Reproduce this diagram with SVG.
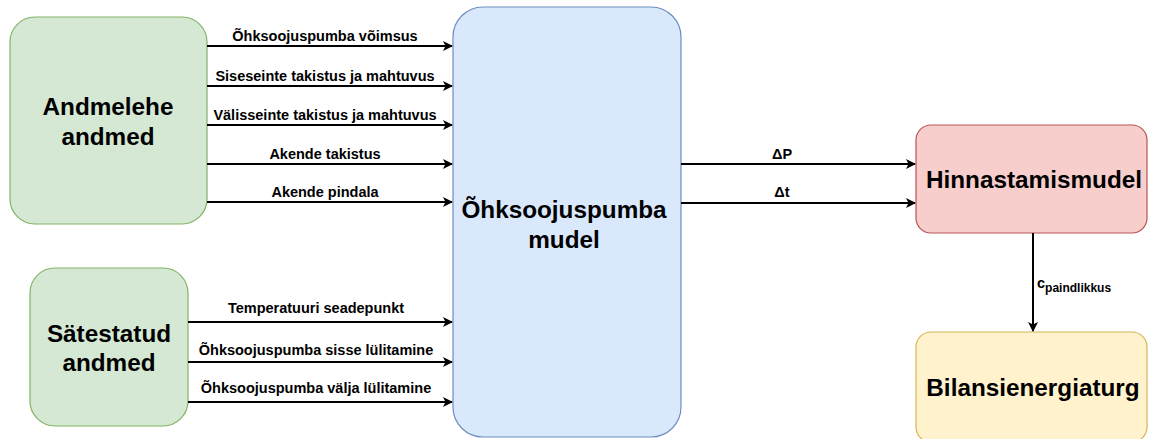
<svg xmlns="http://www.w3.org/2000/svg" width="1151" height="439" viewBox="0 0 1151 439">
  <style>
    .lbl { font-family: "Liberation Sans", Arial, sans-serif; font-weight: bold; font-size: 14.5px; fill: #000; text-anchor: middle; }
    .big { font-family: "Liberation Sans", Arial, sans-serif; font-weight: bold; font-size: 24.3px; fill: #000; text-anchor: middle; }
    .edge { stroke: #000; stroke-width: 2; fill: none; marker-end: url(#arr); }
  </style>
  <defs>
    <marker id="arr" markerWidth="10" markerHeight="10" refX="9" refY="5" orient="auto" markerUnits="userSpaceOnUse">
      <path d="M0,0 L10,5 L0,10 L2.5,5 Z" fill="#000"/>
    </marker>
  </defs>
  <rect width="1151" height="439" fill="#fff"/>

  <g id="andmelehe">
    <rect x="10" y="17" width="197" height="207" rx="25" fill="#d5e8d4" stroke="#82b366" stroke-width="1.2"/>
    <text class="big" x="108" y="115">Andmelehe</text>
    <text class="big" x="108" y="145">andmed</text>
  </g>
  <g id="satestatud">
    <rect x="30" y="268" width="158" height="158" rx="25" fill="#d5e8d4" stroke="#82b366" stroke-width="1.2"/>
    <text class="big" x="109" y="342">Sätestatud</text>
    <text class="big" x="109" y="371">andmed</text>
  </g>
  <g id="mudel">
    <rect x="453" y="7" width="228" height="430" rx="30" fill="#dae8fc" stroke="#6c8ebf" stroke-width="1.2"/>
    <text class="big" x="564" y="218">Õhksoojuspumba</text>
    <text class="big" x="564" y="248">mudel</text>
  </g>
  <g id="hinnastamis">
    <rect x="916" y="125" width="231" height="108" rx="15" fill="#f8cecc" stroke="#b85450" stroke-width="1.2"/>
    <text class="big" x="1034" y="188">Hinnastamismudel</text>
  </g>
  <g id="bilanss">
    <rect x="916" y="332" width="231" height="110" rx="15" fill="#fff2cc" stroke="#d6b656" stroke-width="1.2"/>
    <text class="big" x="1033" y="396">Bilansienergiaturg</text>
  </g>

  <g id="connectors">
    <path class="edge" d="M207,46 H452"/>
    <path class="edge" d="M207,86 H452"/>
    <path class="edge" d="M207,125 H452"/>
    <path class="edge" d="M207,164 H452"/>
    <path class="edge" d="M207,202 H452"/>
    <path class="edge" d="M188,322 H452"/>
    <path class="edge" d="M188,362 H452"/>
    <path class="edge" d="M188,402 H452"/>
    <path class="edge" d="M681,164 H915"/>
    <path class="edge" d="M681,203 H915"/>
    <path class="edge" d="M1033,233 V331"/>
    <text class="lbl" x="325" y="41">Õhksoojuspumba võimsus</text>
    <text class="lbl" x="325" y="81">Siseseinte takistus ja mahtuvus</text>
    <text class="lbl" x="325" y="120">Välisseinte takistus ja mahtuvus</text>
    <text class="lbl" x="325" y="159">Akende takistus</text>
    <text class="lbl" x="325" y="197">Akende pindala</text>
    <text class="lbl" x="316" y="313">Temperatuuri seadepunkt</text>
    <text class="lbl" x="316" y="355">Õhksoojuspumba sisse lülitamine</text>
    <text class="lbl" x="316" y="393">Õhksoojuspumba välja lülitamine</text>
    <text class="lbl" x="782" y="159">ΔP</text>
    <text class="lbl" x="782" y="197">Δt</text>
    <text class="lbl" x="1037" y="288" style="text-anchor:start">c<tspan font-size="12" dy="4">paindlikkus</tspan></text>
  </g>
</svg>
